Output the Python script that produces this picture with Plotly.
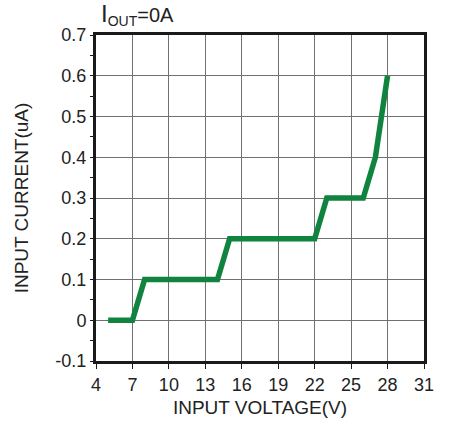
import plotly.graph_objects as go

voltage = [5, 7, 8, 14, 15, 22, 23, 26, 27, 28]
current = [0, 0, 0.1, 0.1, 0.2, 0.2, 0.3, 0.3, 0.4, 0.6]
x_ticks = [4, 7, 10, 13, 16, 19, 22, 25, 28, 31]
y_ticks = [-0.1, 0, 0.1, 0.2, 0.3, 0.4, 0.5, 0.6, 0.7]
y_labels = ["-0.1", "0", "0.1", "0.2", "0.3", "0.4", "0.5", "0.6", "0.7"]

fig = go.Figure()
fig.add_trace(go.Scatter(x=voltage, y=current, mode="lines",
                         line=dict(color="#10843f", width=5.5), hoverinfo="skip"))

font = dict(family="Liberation Sans, Arial, sans-serif", size=18, color="#222")
fig.update_layout(
    template="none",
    width=451, height=427,
    margin=dict(l=96, r=27, t=35, b=66, pad=0),
    paper_bgcolor="white", plot_bgcolor="white",
    showlegend=False,
    font=font,
    annotations=[dict(text="<span style='font-size:24px'>I</span><sub>OUT</sub>=0A",
                      x=0, y=1, xref="paper", yref="paper",
                      showarrow=False, font=dict(size=20, color="#222"),
                      xanchor="left", yanchor="bottom", xshift=3, yshift=4)],
)
axis_common = dict(
    showgrid=True, gridcolor="#707070", gridwidth=1,
    showline=True, linecolor="#1a1a1a", linewidth=3, mirror=True,
    ticks="outside", ticklen=3, tickcolor="#1a1a1a", tickwidth=1,
    zeroline=False, tickfont=dict(size=18),
)
fig.update_xaxes(range=[4, 31], tickvals=x_ticks, ticktext=[str(v) for v in x_ticks],
                 ticklen=5,
                 title=dict(text="INPUT VOLTAGE(V)", standoff=8, font=dict(size=19)),
                 **{k: v for k, v in axis_common.items() if k != "ticklen"})
fig.update_yaxes(range=[-0.1, 0.7], tickvals=y_ticks, ticktext=y_labels,
                 minor=dict(tickvals=[-0.05, 0.05, 0.15, 0.25, 0.35, 0.45, 0.55, 0.65],
                            ticks="outside", ticklen=3, tickcolor="#1a1a1a", showgrid=False),
                 title=dict(text="INPUT CURRENT(uA)", standoff=22, font=dict(size=19)),
                 **axis_common)

fig.write_html("out.html", config={"displayModeBar": False},
               post_script="document.body.style.margin='0';")
